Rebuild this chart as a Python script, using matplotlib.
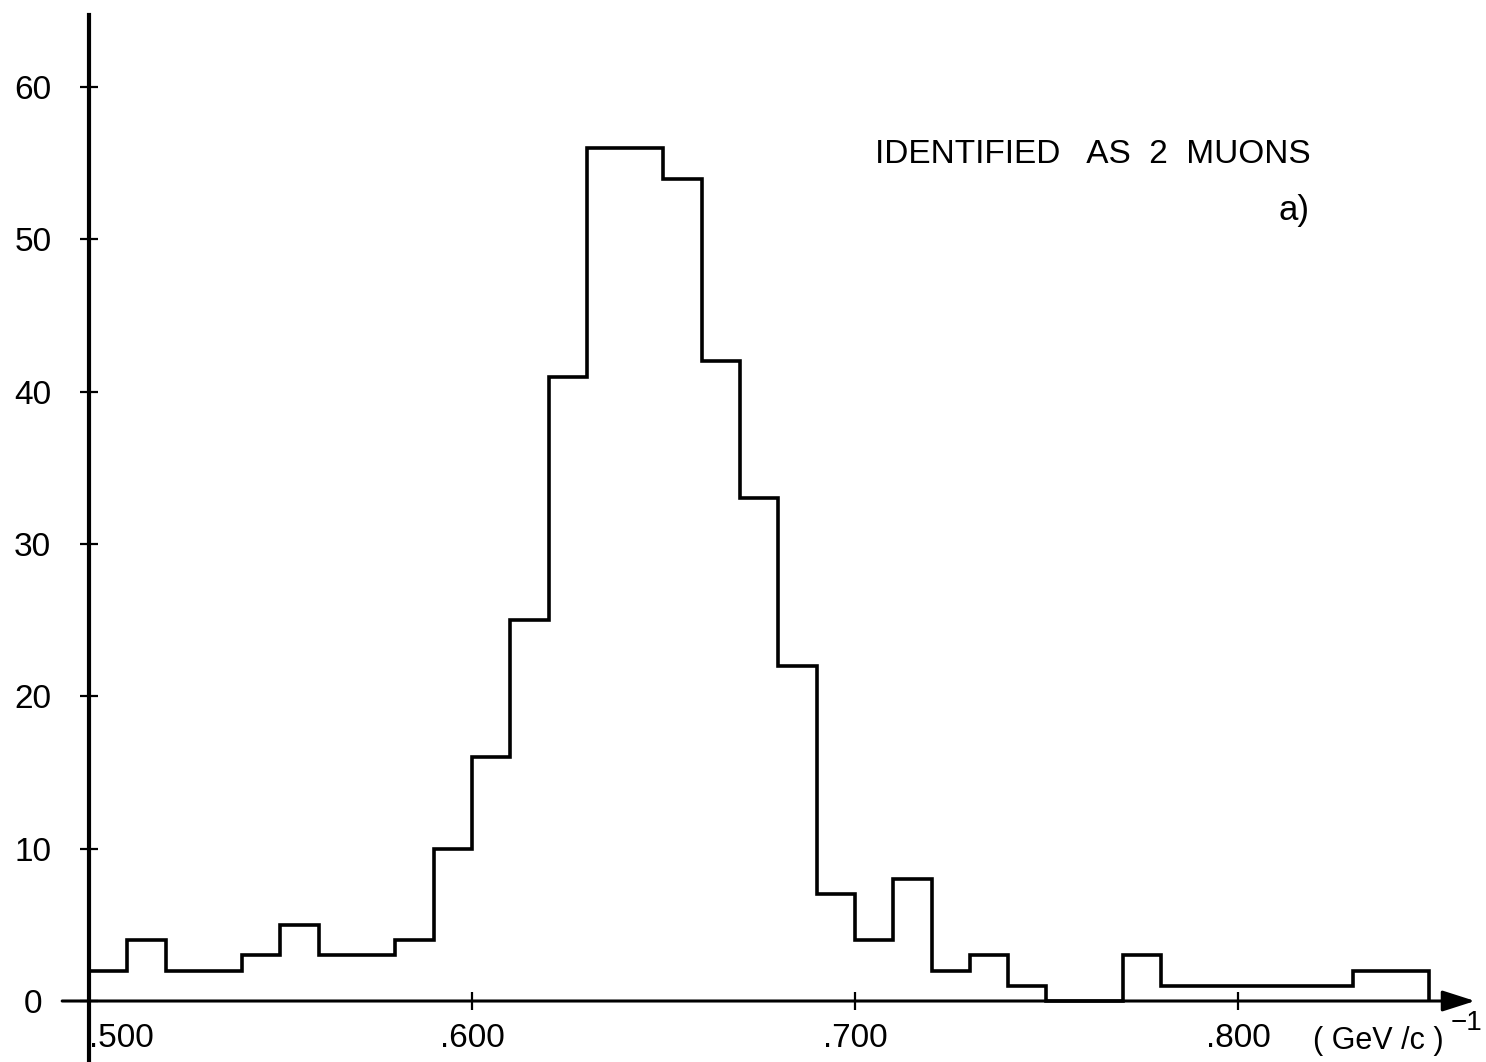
import numpy as np
import matplotlib.pyplot as plt

plt.rcParams['font.family'] = ['Liberation Sans', 'DejaVu Sans']

# histogram: counts per 0.010 bin, starting at 0.500 (GeV/c)^-1
bin_start = 0.500
bin_width = 0.010
counts = [2, 4, 2, 2, 3, 5, 3, 3, 4, 10,
          16, 25, 41, 56, 56, 54, 42, 33, 22, 7,
          4, 8, 2, 3, 1, 0, 0, 3, 1, 1,
          1, 1, 1, 2, 2]

xticks = [0.5, 0.6, 0.7, 0.8]
xlabels = ['.500', '.600', '.700', '.800']
yticks = [0, 10, 20, 30, 40, 50, 60]

edges = bin_start + bin_width * np.arange(len(counts) + 1)

W, H = 1486, 1062
fig = plt.figure(figsize=(W / 100, H / 100), dpi=100)
ax = fig.add_axes([60 / W, 0, 1420 / W, (H - 15) / H])

ax.set_xlim(0.49243, 0.86319)
ax.set_ylim(-4.005, 64.74)

ax.stairs(counts, edges, baseline=0, color='black', lw=2.6)

# axes drawn like the old plotter: crossing lines, arrow on x
for s in ['top', 'right']:
    ax.spines[s].set_visible(False)
ax.spines['left'].set_position(('data', 0.5))
ax.spines['left'].set_linewidth(3.0)
ax.spines['bottom'].set_position(('data', 0))
ax.spines['bottom'].set_visible(False)
ax.annotate('', xy=(0.8619, 0), xytext=(0.4930, 0), xycoords='data',
            arrowprops=dict(arrowstyle='-|>,head_length=1.0,head_width=0.32',
                            mutation_scale=20, lw=2.2, color='black',
                            shrinkA=0, shrinkB=0),
            annotation_clip=False)

ax.set_xticks(xticks, xlabels)
ax.set_yticks(yticks)
ax.tick_params(axis='both', direction='inout', length=13, width=1.6,
               labelsize=24, color='black')
ax.tick_params(axis='x', pad=9)
ax.tick_params(axis='y', pad=34)
for lab in ax.get_yticklabels():
    lab.set_horizontalalignment('center')
ax.get_xticklabels()[0].set_horizontalalignment('left')

ax.text(0.7051, 55.6, 'IDENTIFIED   AS  2  MUONS', fontsize=24, va='center', ha='left')
ax.text(0.8188, 51.9, 'a)', fontsize=25, va='center', ha='right')
ax.text(0.8195, -2.65, '( GeV /c )', fontsize=22, va='center', ha='left')
ax.text(0.8556, -1.45, '\u22121', fontsize=20, va='center', ha='left')

fig.savefig('out.png', dpi=100)
